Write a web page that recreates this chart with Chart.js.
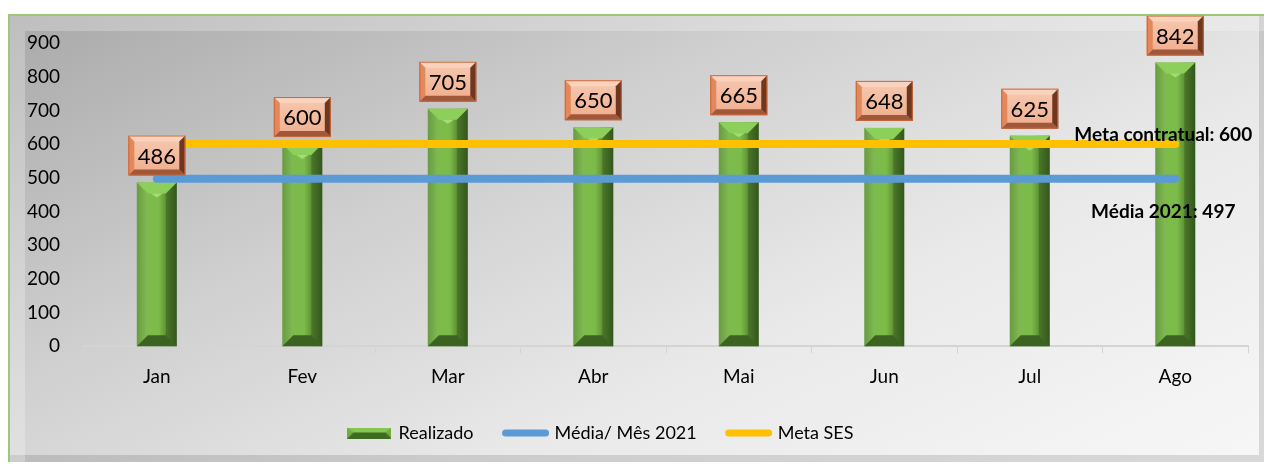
<!DOCTYPE html>
<html>
<head>
<meta charset="utf-8">
<script src="https://cdn.jsdelivr.net/npm/chart.js@4"></script>
<style>
  body { margin: 0; background: #fff; }
  #frame {
    position: absolute; left: 8px; top: 14px; width: 1254px; height: 446px;
    border: 2px solid #9bc97a; border-right: none; border-bottom: none;
    background: linear-gradient(155deg, #a9a9a9 0%, #cfcfcf 35%, #e9e9e9 65%, #f7f7f7 100%);
    box-shadow: inset 16px 16px 0 -1px rgba(255,255,255,0.25), inset -5px -7px 0 0 rgba(0,0,0,0.12);
  }
  #wrap { position: absolute; left: 0; top: 0; width: 1266px; height: 464px; }
</style>
</head>
<body>
<div id="frame"></div>
<div id="wrap"><canvas id="chart" width="1266" height="464"></canvas></div>
<script>
const meses = ["Jan", "Fev", "Mar", "Abr", "Mai", "Jun", "Jul", "Ago"]
const realizado = [486, 600, 705, 650, 665, 648, 625, 842]
const media2021 = [497, 497, 497, 497, 497, 497, 497, 497]
const metaSES = [600, 600, 600, 600, 600, 600, 600, 600]
const yTicks = [0, 100, 200, 300, 400, 500, 600, 700, 800, 900]

const fonte = "Lato, 'Open Sans', sans-serif"

// relevo das barras e caixas de valor
const bevel = {
    id: 'bevel',
    afterLayout(chart) {
        // legenda um pouco à esquerda e mais alta, como no original
        chart.legend.left -= 28
        chart.legend.right -= 28
        chart.legend.top -= 8
        chart.legend.bottom -= 8
    },
    afterDatasetDraw(chart, args) {
        if (args.index !== 0) return
        const ctx = chart.ctx
        chart.getDatasetMeta(0).data.forEach(bar => {
            const w = bar.width, x0 = bar.x - w / 2, x1 = bar.x + w / 2
            const top = bar.y, bot = bar.base, e = 11
            ctx.save()
            let g = ctx.createLinearGradient(x0, 0, x1, 0)
            g.addColorStop(0, '#5f9636'); g.addColorStop(0.3, '#7dbb4b')
            g.addColorStop(0.55, '#7cba49'); g.addColorStop(0.75, '#5a8f32'); g.addColorStop(1, '#3f6a21')
            ctx.fillStyle = g
            ctx.fillRect(x0, top, w, bot - top)
            // topo
            ctx.fillStyle = '#8ccf5a'
            ctx.beginPath(); ctx.moveTo(x0, top); ctx.lineTo(x1, top); ctx.lineTo(x1 - e, top + e); ctx.lineTo(x0 + e, top + e); ctx.fill()
            ctx.fillStyle = '#a5dc78'
            ctx.beginPath(); ctx.moveTo(bar.x - 6, top + e); ctx.lineTo(bar.x, top + e + 4); ctx.lineTo(bar.x + 6, top + e); ctx.fill()
            // base
            ctx.fillStyle = '#3d6322'
            ctx.beginPath(); ctx.moveTo(x0, bot); ctx.lineTo(x1, bot); ctx.lineTo(x1 - e, bot - e); ctx.lineTo(x0 + e, bot - e); ctx.fill()
            // lados
            ctx.fillStyle = 'rgba(0,0,0,0.18)'
            ctx.beginPath(); ctx.moveTo(x1, top); ctx.lineTo(x1, bot); ctx.lineTo(x1 - e, bot - e); ctx.lineTo(x1 - e, top + e); ctx.fill()
            ctx.fillStyle = 'rgba(255,255,255,0.06)'
            ctx.beginPath(); ctx.moveTo(x0, top); ctx.lineTo(x0, bot); ctx.lineTo(x0 + e, bot - e); ctx.lineTo(x0 + e, top + e); ctx.fill()
            ctx.restore()
        })
    },
    afterDraw(chart) {
        const ctx = chart.ctx
        ctx.save()
        ctx.font = '22px ' + fonte
        ctx.textAlign = 'center'
        ctx.textBaseline = 'middle'
        chart.getDatasetMeta(0).data.forEach((bar, i) => {
            const w = 57, h = 40, x = bar.x - w / 2, y = bar.y - 7 - h, e = 6
            let g = ctx.createLinearGradient(0, y, 0, y + h)
            g.addColorStop(0, '#f7c9b0'); g.addColorStop(1, '#f0ad8c')
            ctx.fillStyle = g
            ctx.fillRect(x, y, w, h)
            ctx.fillStyle = '#f9d3be'
            ctx.beginPath(); ctx.moveTo(x, y); ctx.lineTo(x + w, y); ctx.lineTo(x + w - e, y + e); ctx.lineTo(x + e, y + e); ctx.fill()
            ctx.fillStyle = '#e4875a'
            ctx.beginPath(); ctx.moveTo(x, y); ctx.lineTo(x, y + h); ctx.lineTo(x + e, y + h - e); ctx.lineTo(x + e, y + e); ctx.fill()
            ctx.fillStyle = '#a0583a'
            ctx.beginPath(); ctx.moveTo(x, y + h); ctx.lineTo(x + w, y + h); ctx.lineTo(x + w - e, y + h - e); ctx.lineTo(x + e, y + h - e); ctx.fill()
            ctx.fillStyle = '#6e3820'
            ctx.beginPath(); ctx.moveTo(x + w, y); ctx.lineTo(x + w, y + h); ctx.lineTo(x + w - e, y + h - e); ctx.lineTo(x + w - e, y + e); ctx.fill()
            ctx.strokeStyle = '#c8663a'; ctx.lineWidth = 1
            ctx.strokeRect(x + 0.5, y + 0.5, w - 1, h - 1)
            ctx.fillStyle = '#000'
            ctx.fillText(realizado[i], bar.x, y + h / 2 + 1)
        })
        // rótulos das linhas
        ctx.font = 'bold 19px ' + fonte
        const pMedia = chart.getDatasetMeta(1).data[media2021.length - 1]
        const pMeta = chart.getDatasetMeta(2).data[metaSES.length - 1]
        ctx.fillText('Meta contratual: ' + metaSES[metaSES.length - 1], pMeta.x - 12, pMeta.y - 9)
        ctx.fillText('Média 2021: ' + media2021[media2021.length - 1], pMedia.x - 12, pMedia.y + 33)
        ctx.restore()
    }
}

// legenda: retângulo verde para as barras
const legendBox = document.createElement('canvas')
legendBox.width = 44; legendBox.height = 11
{
    const c = legendBox.getContext('2d')
    c.fillStyle = '#6fae40'; c.fillRect(0, 0, 44, 11)
    c.fillStyle = '#3f6a21'; c.beginPath(); c.moveTo(0, 11); c.lineTo(44, 11); c.lineTo(38, 5); c.lineTo(6, 5); c.fill()
    c.fillStyle = '#86c654'; c.beginPath(); c.moveTo(0, 0); c.lineTo(44, 0); c.lineTo(38, 5); c.lineTo(6, 5); c.fill()
}

new Chart(document.getElementById('chart'), {
    data: {
        labels: meses,
        datasets: [
            { type: 'bar', label: 'Realizado', data: realizado, backgroundColor: 'rgba(0,0,0,0)',
              categoryPercentage: 1, barPercentage: 0.275, order: 3 },
            { type: 'line', label: 'Média/ Mês 2021', data: media2021, borderColor: '#5b9bd5', backgroundColor: '#5b9bd5',
              borderWidth: 8, borderCapStyle: 'round', pointRadius: 0, order: 1 },
            { type: 'line', label: 'Meta SES', data: metaSES, borderColor: '#ffc000', backgroundColor: '#ffc000',
              borderWidth: 8, borderCapStyle: 'round', pointRadius: 0, order: 2 }
        ]
    },
    options: {
        responsive: false,
        animation: false,
        layout: { padding: { left: 11, right: 18, top: 43, bottom: 4 } },
        scales: {
            x: {
                grid: { display: true, drawOnChartArea: false, offset: true, tickLength: 7, color: '#d4d4d4' },
                border: { color: '#d4d4d4', width: 2 },
                ticks: { color: '#000', font: { family: fonte, size: 19 }, padding: 12 }
            },
            y: {
                min: 0, max: 900,
                afterBuildTicks: axis => { axis.ticks = yTicks.map(v => ({ value: v })) },
                grid: { display: false },
                border: { display: false },
                ticks: { color: '#000', font: { family: fonte, size: 19 }, padding: 16 }
            }
        },
        plugins: {
            legend: {
                position: 'bottom',
                labels: {
                    color: '#000', font: { family: fonte, size: 18 }, padding: 32,
                    usePointStyle: true, pointStyleWidth: 40, boxHeight: 10,
                    generateLabels(chart) {
                        return chart.data.datasets.map((ds, i) => ({
                            text: ds.label,
                            datasetIndex: i,
                            pointStyle: i === 0 ? legendBox : 'line',
                            fillStyle: ds.backgroundColor,
                            strokeStyle: i === 0 ? '#6fae40' : ds.borderColor,
                            lineWidth: i === 0 ? 0 : 7,
                            lineCap: 'round',
                            fontColor: '#000'
                        }))
                    }
                }
            },
            tooltip: { enabled: false }
        }
    },
    plugins: [bevel]
})
</script>
</body>
</html>
